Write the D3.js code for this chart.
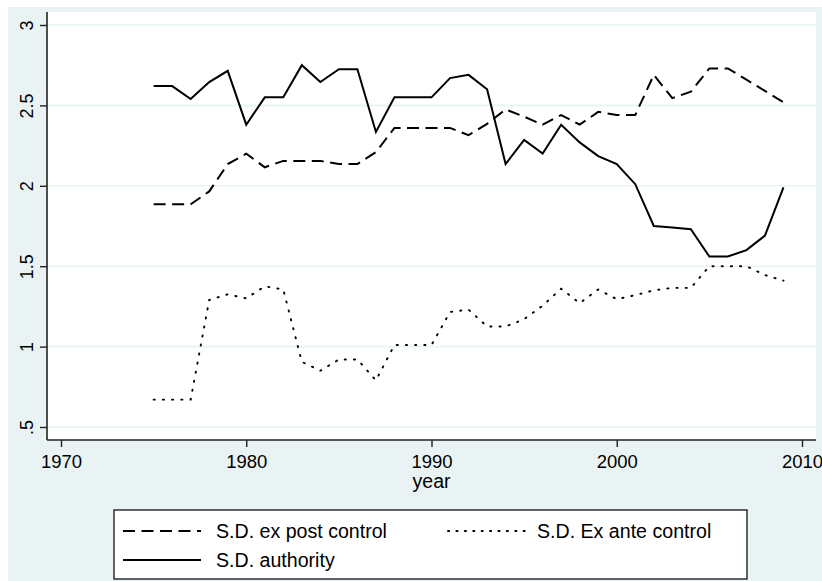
<!DOCTYPE html>
<html>
<head>
<meta charset="utf-8">
<script src="https://cdn.jsdelivr.net/npm/d3@7"></script>
<style>
  html, body { margin: 0; padding: 0; background: #ffffff; }
  svg { display: block; font-family: "Liberation Sans", Arial, Helvetica, sans-serif; }
</style>
</head>
<body>
<svg id="chart" width="822" height="581"></svg>
<script>
const years = d3.range(1975, 2010);
const expost = [1.885, 1.885, 1.885, 1.965, 2.135, 2.20, 2.115, 2.155, 2.155, 2.155,
                2.135, 2.135, 2.21, 2.36, 2.36, 2.36, 2.36, 2.315, 2.385, 2.475,
                2.43, 2.38, 2.44, 2.38, 2.46, 2.44, 2.44, 2.69, 2.545, 2.585,
                2.73, 2.73, 2.66, 2.59, 2.52];
const exante = [0.67, 0.67, 0.67, 1.29, 1.325, 1.30, 1.375, 1.355, 0.905, 0.85,
                0.92, 0.92, 0.79, 1.01, 1.01, 1.01, 1.215, 1.23, 1.125, 1.125,
                1.17, 1.255, 1.36, 1.27, 1.355, 1.295, 1.32, 1.35, 1.365, 1.365,
                1.50, 1.50, 1.50, 1.445, 1.41];
const authority = [2.62, 2.62, 2.54, 2.645, 2.715, 2.38, 2.55, 2.55, 2.75, 2.645,
                   2.725, 2.725, 2.335, 2.55, 2.55, 2.55, 2.67, 2.69, 2.60, 2.135,
                   2.285, 2.20, 2.38, 2.27, 2.185, 2.135, 2.01, 1.75, 1.74, 1.73,
                   1.56, 1.56, 1.60, 1.69, 1.99];
const xTicks = [1970, 1980, 1990, 2000, 2010];
const yTicks = [0.5, 1, 1.5, 2, 2.5, 3];
const yTickLabels = [".5", "1", "1.5", "2", "2.5", "3"];
const xTitle = "year";
const seriesNames = ["S.D. ex post control", "S.D. Ex ante control", "S.D. authority"];

const svg = d3.select("#chart");
const bg = "#eaf3f3";

// outer graph region
svg.append("rect").attr("x", 8).attr("y", 7).attr("width", 814).attr("height", 574).attr("fill", bg);
// plot region
const plotL = 47, plotR = 816, plotT = 12, plotB = 440;
svg.append("rect").attr("x", plotL).attr("y", plotT).attr("width", plotR - plotL).attr("height", plotB - plotT).attr("fill", "#ffffff");

const x = d3.scaleLinear().domain([1970, 2010]).range([61, 802]);
const y = d3.scaleLinear().domain([0.5, 3]).range([427, 25]);

// grid
svg.append("g").selectAll("line").data(yTicks).join("line")
  .attr("x1", plotL).attr("x2", plotR)
  .attr("y1", d => y(d)).attr("y2", d => y(d))
  .attr("stroke", bg).attr("stroke-width", 1.6);

// y axis
const yAxis = d3.axisLeft(y).tickValues(yTicks).tickSize(7).tickPadding(13)
  .tickFormat((d, i) => yTickLabels[i]);
const gy = svg.append("g").attr("transform", `translate(${plotL},0)`).call(yAxis);
gy.select(".domain").attr("d", `M0,${plotT}V${plotB}`).attr("stroke", "#222").attr("stroke-width", 1.6);
gy.selectAll(".tick line").attr("stroke", "#222").attr("stroke-width", 1.4);
gy.selectAll(".tick text")
  .attr("font-size", 18).attr("fill", "#000")
  .attr("text-anchor", "middle")
  .attr("x", null)
  .attr("transform", "translate(-20,0) rotate(-90)")
  .attr("y", 0)
  .attr("dy", "0.35em");

// x axis
const xAxis = d3.axisBottom(x).tickValues(xTicks).tickSize(7).tickPadding(8).tickFormat(d3.format("d"));
const gx = svg.append("g").attr("transform", `translate(0,${plotB})`).call(xAxis);
gx.select(".domain").attr("d", `M${plotL},0H${plotR}`).attr("stroke", "#222").attr("stroke-width", 1.6);
gx.selectAll(".tick line").attr("stroke", "#222").attr("stroke-width", 1.4);
gx.selectAll(".tick text").attr("font-size", 18.5).attr("fill", "#000");

svg.append("text").attr("x", (plotL + plotR) / 2).attr("y", 488)
  .attr("text-anchor", "middle").attr("font-size", 19.5).attr("fill", "#000").text(xTitle);

const line = d3.line().x((d, i) => x(years[i])).y(d => y(d));
const styles = [
  { data: expost, dash: "12,6.5", legendDash: "12,6.5", cap: "butt", w: 2 },
  { data: exante, dash: "1.2,8", legendDash: "1.2,7.2", cap: "round", w: 1.9 },
  { data: authority, dash: null, legendDash: null, cap: "butt", w: 2 }
];
styles.forEach(s => {
  svg.append("path").datum(s.data)
    .attr("d", line)
    .attr("fill", "none").attr("stroke", "#000")
    .attr("stroke-width", s.w)
    .attr("stroke-linejoin", "miter")
    .attr("stroke-linecap", s.cap)
    .attr("stroke-dasharray", s.dash);
});

// legend
const lg = svg.append("g");
lg.append("rect").attr("x", 114).attr("y", 510).attr("width", 633).attr("height", 69)
  .attr("fill", "#ffffff").attr("stroke", "#222").attr("stroke-width", 1.4);
const legendItems = [
  { name: seriesNames[0], st: styles[0], x: 123, y: 531 },
  { name: seriesNames[1], st: styles[1], x: 448, y: 531 },
  { name: seriesNames[2], st: styles[2], x: 123, y: 560 }
];
legendItems.forEach(it => {
  lg.append("line").attr("x1", it.x).attr("x2", it.x + 78).attr("y1", it.y).attr("y2", it.y)
    .attr("stroke", "#000").attr("stroke-width", it.st.w)
    .attr("stroke-dasharray", it.st.legendDash)
    .attr("stroke-linecap", it.st.cap);
  lg.append("text").attr("x", it.x + (it.x > 300 ? 89 : 93)).attr("y", it.y + 7)
    .attr("font-size", 19.6).attr("fill", "#000").text(it.name);
});
</script>
</body>
</html>
